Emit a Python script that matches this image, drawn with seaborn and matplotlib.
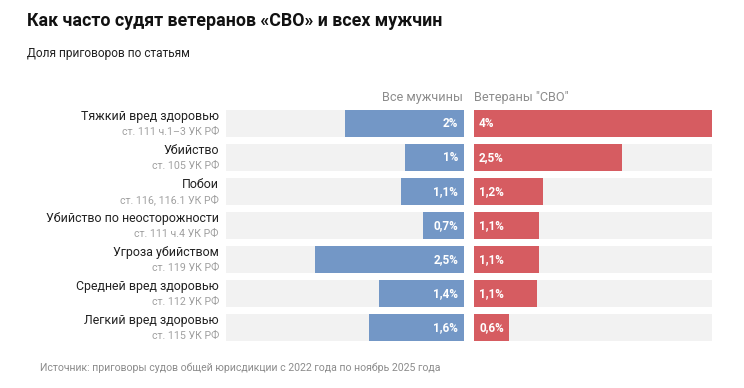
import matplotlib
matplotlib.use("Agg")
import matplotlib.pyplot as plt
import pandas as pd
import seaborn as sns

# data
categories = ["Тяжкий вред здоровью", "Убийство", "Побои", "Убийство по неосторожности",
              "Угроза убийством", "Средней вред здоровью", "Легкий вред здоровью"]
articles = ["ст. 111 ч.1–3 УК РФ", "ст. 105 УК РФ", "ст. 116, 116.1 УК РФ", "ст. 111 ч.4 УК РФ",
            "ст. 119 УК РФ", "ст. 112 УК РФ", "ст. 115 УК РФ"]
all_men = [2.0, 1.0, 1.06, 0.69, 2.5, 1.43, 1.6]
all_men_labels = ["2%", "1%", "1,1%", "0,7%", "2,5%", "1,4%", "1,6%"]
veterans = [4.0, 2.48, 1.16, 1.1, 1.1, 1.06, 0.59]
veterans_labels = ["4%", "2,5%", "1,2%", "1,1%", "1,1%", "1,1%", "0,6%"]
XMAX = 4.0

BLUE = "#7397c6"
RED = "#d65c61"
BG = "#f2f2f2"
GREY = "#8c8c8c"

sns.set_theme(style="white")
plt.rcParams["font.family"] = ["Roboto", "DejaVu Sans"]

W, H = 744, 388
fig = plt.figure(figsize=(W / 100, H / 100), dpi=100)


def fx(x):
    return x / W


def fy(y):
    return 1 - y / H


df = pd.DataFrame({"cat": categories, "men": all_men, "vet": veterans, "full": [XMAX] * len(categories)})

top, bottom = 110, 340.7
bw = 0.785
ax_l = fig.add_axes([fx(226), fy(bottom), 238 / W, (bottom - top) / H])
ax_r = fig.add_axes([fx(474), fy(bottom), 238 / W, (bottom - top) / H])

for ax, col, color in [(ax_l, "men", BLUE), (ax_r, "vet", RED)]:
    sns.barplot(data=df, x="full", y="cat", color=BG, width=bw, ax=ax, orient="h", saturation=1)
    sns.barplot(data=df, x=col, y="cat", color=color, width=bw, ax=ax, orient="h", saturation=1)
    for p in ax.patches:
        p.set_edgecolor("none")
        p.set_alpha(1)
    ax.set_ylim(len(categories) - 1 + bw / 2, -bw / 2)
    ax.set_xlabel("")
    ax.set_ylabel("")
    ax.set_xticks([])
    ax.set_yticks([])
    sns.despine(ax=ax, left=True, bottom=True)

ax_l.set_xlim(XMAX, 0)
ax_r.set_xlim(0, XMAX)

for i in range(len(categories)):
    ax_l.annotate(all_men_labels[i], xy=(0, i), xytext=(-6, 0), textcoords="offset pixels",
                  ha="right", va="center", color="white", fontsize=8.5, fontweight="bold")
    ax_r.annotate(veterans_labels[i], xy=(0, i), xytext=(5, 0), textcoords="offset pixels",
                  ha="left", va="center", color="white", fontsize=8.5, fontweight="bold")
    ax_l.annotate(categories[i], xy=(0, i), xycoords=("axes fraction", "data"),
                  xytext=(-7, 6.5), textcoords="offset pixels",
                  ha="right", va="center", color="#222222", fontsize=8.9)
    ax_l.annotate(articles[i], xy=(0, i), xycoords=("axes fraction", "data"),
                  xytext=(-7, -8.5), textcoords="offset pixels",
                  ha="right", va="center", color="#a0a0a0", fontsize=7.7)

fig.text(fx(463), fy(97), "Все мужчины", ha="right", va="center", color=GREY, fontsize=9.1)
fig.text(fx(474), fy(97), "Ветераны \"СВО\"", ha="left", va="center", color=GREY, fontsize=9.1)

fig.text(fx(27), fy(21), "Как часто судят ветеранов «СВО» и всех мужчин", ha="left", va="center",
         color="#111111", fontsize=12.8, fontweight="bold")
fig.text(fx(27), fy(53), "Доля приговоров по статьям", ha="left", va="center",
         color="#222222", fontsize=8.6)
fig.text(fx(40), fy(368), "Источник: приговоры судов общей юрисдикции с 2022 года по ноябрь 2025 года",
         ha="left", va="center", color=GREY, fontsize=7.6)

fig.savefig("out.png", dpi=100, facecolor="white")
